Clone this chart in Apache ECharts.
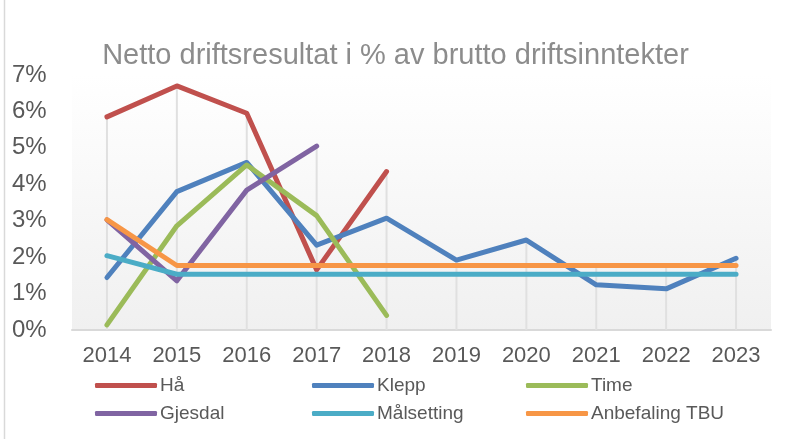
<!DOCTYPE html>
<html>
<head>
<meta charset="utf-8">
<script src="https://cdn.jsdelivr.net/npm/echarts@6/dist/echarts.min.js"></script>
<style>
  html, body { margin: 0; padding: 0; background: #fff; }
  #chart { width: 791px; height: 439px; }
</style>
</head>
<body>
<div id="chart"></div>
<script>
// data (percent)
var years = ['2014', '2015', '2016', '2017', '2018', '2019', '2020', '2021', '2022', '2023'];
var haa = [5.85, 6.7, 5.95, 1.65, 4.35];
var klepp = [1.44, 3.8, 4.6, 2.33, 3.07, 1.92, 2.47, 1.24, 1.13, 1.97];
var time = [0.14, 2.86, 4.53, 3.14, 0.4];
var gjesdal = [3.02, 1.35, 3.84, 5.05];
var maal = [2.04, 1.53, 1.53, 1.53, 1.53, 1.53, 1.53, 1.53, 1.53, 1.53];
var tbu = [3.03, 1.77, 1.77, 1.77, 1.77, 1.77, 1.77, 1.77, 1.77, 1.77];

var names = ['Hå', 'Klepp', 'Time', 'Gjesdal', 'Målsetting', 'Anbefaling TBU'];
var colors = ['#c0504d', '#4f81bd', '#9bbb59', '#8064a2', '#4bacc6', '#f79646'];
var all = [haa, klepp, time, gjesdal, maal, tbu];
var font = 'Liberation Sans, Arial, sans-serif';

// drop lines go from the highest point of each year down to the axis
var dropTop = years.map(function (y, i) {
  var m = 0;
  all.forEach(function (s) { if (s[i] != null && s[i] > m) m = s[i]; });
  return m;
});

var lineSeries = all.map(function (s, i) {
  return {
    name: names[i],
    type: 'line',
    data: s,
    symbol: 'none',
    z: 3,
    lineStyle: { width: 5, color: colors[i], cap: 'round', join: 'round' },
    itemStyle: { color: colors[i] }
  };
});

// one legend per column, two rows each
var colLeft = [90, 307, 521];
var legends = colLeft.map(function (x, c) {
  return {
    data: [names[c], names[c + 3]],
    orient: 'vertical',
    left: x,
    top: 371,
    itemWidth: 62,
    itemHeight: 5,
    itemGap: 9,
    icon: 'roundRect',
    textStyle: { color: '#595959', fontSize: 19, padding: [0, 0, 0, -2], fontFamily: font }
  };
});

var myChart = echarts.init(document.getElementById('chart'));
var option = {
  animation: false,
  backgroundColor: '#fff',
  title: {
    text: 'Netto driftsresultat i % av brutto driftsinntekter',
    left: 'center',
    top: 36,
    textStyle: { color: '#8c8c8c', fontSize: 29, fontWeight: 'normal', fontFamily: font }
  },
  graphic: [{
    type: 'line',
    shape: { x1: 4.5, y1: 0, x2: 4.5, y2: 439 },
    style: { stroke: '#d9d9d9', lineWidth: 1.5 }
  }],
  grid: {
    left: 72, right: 20, top: 75, bottom: 109,
    show: true,
    borderWidth: 0,
    backgroundColor: {
      type: 'linear', x: 0, y: 0, x2: 0, y2: 1,
      colorStops: [{ offset: 0, color: '#ffffff' }, { offset: 1, color: '#f0f0f0' }]
    }
  },
  legend: legends,
  xAxis: {
    type: 'category',
    data: years,
    boundaryGap: true,
    axisLine: { lineStyle: { color: '#d9d9d9', width: 2 } },
    axisTick: { show: false },
    axisLabel: { color: '#595959', fontSize: 22, margin: 15, fontFamily: font }
  },
  yAxis: {
    type: 'value',
    min: 0, max: 7, interval: 1,
    axisLine: { show: false },
    axisTick: { show: false },
    splitLine: { show: false },
    axisLabel: {
      color: '#595959', fontSize: 24, margin: 60, align: 'left',
      fontFamily: font,
      formatter: '{value}%'
    }
  },
  series: [{
    name: 'drop',
    type: 'bar',
    data: dropTop,
    barWidth: 2,
    silent: true,
    z: 1,
    itemStyle: { color: '#e0e0e0' }
  }].concat(lineSeries)
};
myChart.setOption(option);
</script>
</body>
</html>
